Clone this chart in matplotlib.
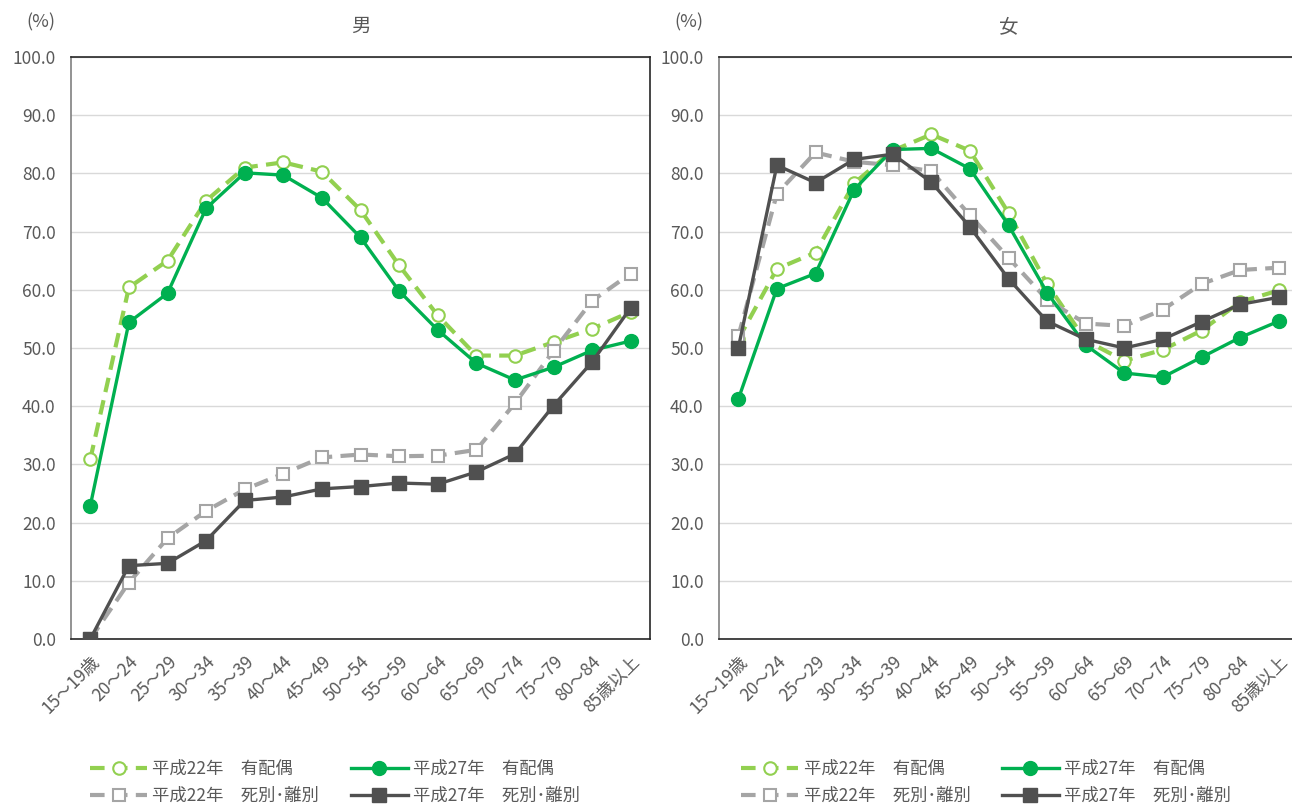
import matplotlib
matplotlib.use("Agg")
import matplotlib.pyplot as plt
from matplotlib.ticker import FormatStrFormatter

plt.rcParams['font.family'] = ['Noto Sans CJK JP', 'DejaVu Sans']

# Age groups
ages = ['15～19歳', '20～24', '25～29', '30～34', '35～39', '40～44', '45～49',
        '50～54', '55～59', '60～64', '65～69', '70～74', '75～79', '80～84', '85歳以上']

# 男
male_h22_married = [30.9, 60.4, 65.0, 75.3, 81.0, 81.9, 80.3, 73.7, 64.2, 55.6, 48.7, 48.7, 51.0, 53.3, 56.2]
male_h27_married = [22.9, 54.4, 59.4, 74.0, 80.1, 79.7, 75.8, 69.0, 59.8, 53.1, 47.4, 44.5, 46.7, 49.6, 51.2]
male_h22_widowed = [0.0, 9.7, 17.3, 22.0, 25.7, 28.4, 31.2, 31.7, 31.4, 31.5, 32.5, 40.5, 49.5, 58.1, 62.8]
male_h27_widowed = [0.0, 12.6, 13.0, 16.9, 23.8, 24.4, 25.8, 26.2, 26.8, 26.6, 28.7, 31.8, 40.1, 47.6, 56.9]

# 女
female_h22_married = [51.5, 63.6, 66.4, 78.3, 83.9, 86.7, 83.9, 73.2, 61.0, 51.3, 47.8, 49.7, 53.0, 57.9, 59.9]
female_h27_married = [41.2, 60.2, 62.8, 77.2, 84.1, 84.3, 80.8, 71.1, 59.5, 50.5, 45.7, 45.0, 48.4, 51.8, 54.6]
female_h22_widowed = [52.0, 76.5, 83.6, 82.0, 81.4, 80.4, 72.8, 65.5, 58.3, 54.2, 53.8, 56.6, 61.0, 63.4, 63.8]
female_h27_widowed = [50.0, 81.4, 78.4, 82.4, 83.3, 78.5, 70.8, 61.9, 54.6, 51.5, 50.0, 51.5, 54.5, 57.5, 58.7]

labels = ['平成22年　有配偶', '平成27年　有配偶', '平成22年　死別･離別', '平成27年　死別･離別']

c_lg = '#92D050'
c_dg = '#00B050'
c_gr = '#A5A5A5'
c_dk = '#505050'
txt = '#595959'

fig = plt.figure(figsize=(12.92, 8.07), dpi=100)
ax1 = fig.add_axes([71 / 1292, 1 - 639 / 807, 579 / 1292, 582 / 807])
ax2 = fig.add_axes([719 / 1292, 1 - 639 / 807, 579 / 1292, 582 / 807])


def draw(ax, h22m, h27m, h22w, h27w, title):
    x = range(len(ages))
    l1, = ax.plot(x, h22m, color=c_lg, lw=3, linestyle=(0, (3.5, 2)), marker='o', ms=9,
                  mfc='white', mec=c_lg, mew=1.5, zorder=3)
    l2, = ax.plot(x, h27m, color=c_dg, lw=2.4, marker='o', ms=10, mfc=c_dg, mec=c_dg, zorder=4)
    l3, = ax.plot(x, h22w, color=c_gr, lw=3, linestyle=(0, (3.5, 2)), marker='s', ms=8.5,
                  mfc='white', mec=c_gr, mew=1.5, zorder=3)
    l4, = ax.plot(x, h27w, color=c_dk, lw=2.4, marker='s', ms=9.5, mfc=c_dk, mec=c_dk, zorder=5)

    ax.set_xlim(-0.5, len(ages) - 0.5)
    ax.set_ylim(0, 100)
    ax.set_yticks(range(0, 101, 10))
    ax.yaxis.set_major_formatter(FormatStrFormatter('%.1f'))
    ax.set_xticks(list(x))
    ax.set_xticklabels(ages, rotation=45, ha='right', rotation_mode='anchor')
    ax.tick_params(length=0, labelsize=12.5, colors=txt)
    ax.tick_params(axis='y', pad=11)
    ax.tick_params(axis='x', pad=10)
    ax.grid(axis='y', color='#D9D9D9', lw=1)
    ax.set_axisbelow(True)
    for s in ax.spines.values():
        s.set_color('#262626')
        s.set_linewidth(1.2)
    ax.spines['left'].set_color('#808080')
    ax.set_title(title, fontsize=14, color=txt, pad=18)
    ax.text(-0.052, 1.06, '(%)', transform=ax.transAxes, fontsize=13, color=txt,
            ha='center', va='center')
    return [l1, l3, l2, l4]


h1 = draw(ax1, male_h22_married, male_h27_married, male_h22_widowed, male_h27_widowed, '男')
h2 = draw(ax2, female_h22_married, female_h27_married, female_h22_widowed, female_h27_widowed, '女')

order = [labels[0], labels[2], labels[1], labels[3]]
for h, x0 in ((h1, 90), (h2, 741)):
    fig.legend(h, order, ncol=2, loc='upper left', bbox_to_anchor=(x0 / 1292, 1 - 760 / 807),
               frameon=False, fontsize=12.5, handlelength=3.3, handletextpad=0.3,
               columnspacing=1.8, labelspacing=0.5, borderpad=0, borderaxespad=0,
               labelcolor=txt)

fig.savefig('out.png', dpi=100)
